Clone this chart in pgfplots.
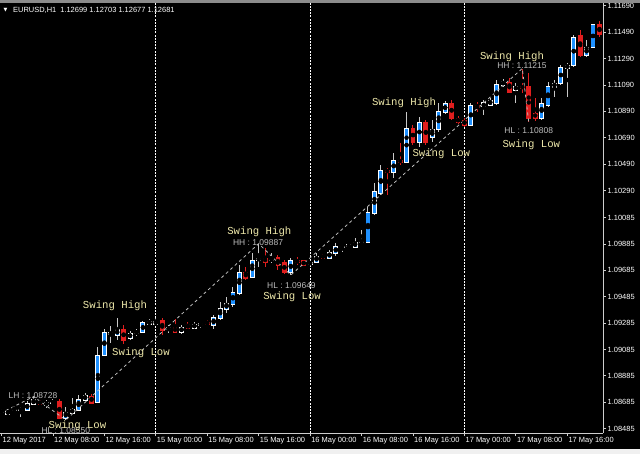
\documentclass[border=0pt]{standalone}
\usepackage{pgfplots}
\usepackage{pgfplotstable}
\pgfplotsset{compat=1.18}
\usepackage{fontspec}
\setmainfont{Liberation Sans}
\newfontfamily\monofont{Liberation Mono}
\newfontfamily\symfont{DejaVu Sans}
\definecolor{bullblue}{RGB}{30,144,255}
\definecolor{bearred}{RGB}{225,30,30}
\definecolor{wickgray}{RGB}{200,200,200}
\definecolor{swingyellow}{RGB}{238,232,170}
\definecolor{lblgray}{RGB}{190,190,190}
\definecolor{axgray}{RGB}{205,205,205}

\pgfplotstableread{
i O H L C
0 1.08611 1.08634 1.08596 1.08619
1 1.08596 1.08634 1.08588 1.08619
2 1.08626 1.08657 1.08619 1.08634
3 1.08626 1.08649 1.08573 1.08634
4 1.08626 1.08694 1.08619 1.08679
5 1.08672 1.08728 1.08664 1.08702
7 1.08664 1.08702 1.08641 1.08687
8 1.08679 1.08710 1.08664 1.08687
10 1.08566 1.08649 1.08550 1.08611
11 1.08604 1.08717 1.08596 1.08634
12 1.08626 1.08740 1.08619 1.08710
13 1.08702 1.08755 1.08694 1.08740
15 1.08687 1.09104 1.08679 1.09043
16 1.09043 1.09240 1.09036 1.09217
17 1.09202 1.09263 1.09134 1.09210
18 1.09195 1.09324 1.09157 1.09240
20 1.09172 1.09225 1.09157 1.09210
21 1.09210 1.09240 1.09187 1.09217
22 1.09217 1.09301 1.09210 1.09286
23 1.09278 1.09316 1.09271 1.09301
24 1.09278 1.09324 1.09271 1.09301
26 1.09233 1.09271 1.09210 1.09255
28 1.09217 1.09271 1.09202 1.09255
30 1.09248 1.09293 1.09240 1.09278
31 1.09271 1.09293 1.09248 1.09286
33 1.09271 1.09346 1.09240 1.09331
34 1.09324 1.09445 1.09308 1.09399
35 1.09392 1.09483 1.09362 1.09437
36 1.09430 1.09559 1.09407 1.09521
37 1.09513 1.09725 1.09498 1.09672
39 1.09634 1.09816 1.09627 1.09763
40 1.09763 1.09887 1.09710 1.09778
42 1.09763 1.09816 1.09741 1.09771
45 1.09672 1.09778 1.09649 1.09763
48 1.09733 1.09756 1.09725 1.09748
49 1.09748 1.09816 1.09741 1.09794
51 1.09778 1.09839 1.09771 1.09824
52 1.09816 1.09892 1.09794 1.09862
53 1.09862 1.09877 1.09824 1.09870
54 1.09862 1.09885 1.09854 1.09877
55 1.09862 1.09930 1.09854 1.09900
56 1.09900 1.09991 1.09892 1.09907
57 1.09900 1.10165 1.09892 1.10127
58 1.10120 1.10347 1.10104 1.10279
59 1.10271 1.10483 1.10256 1.10445
61 1.10430 1.10574 1.10385 1.10521
63 1.10506 1.10885 1.10498 1.10764
65 1.10658 1.10847 1.10620 1.10809
67 1.10696 1.10824 1.10658 1.10749
68 1.10749 1.10953 1.10733 1.10885
69 1.10885 1.10968 1.10870 1.10953
73 1.10787 1.10953 1.10779 1.10938
75 1.10923 1.10976 1.10862 1.10953
76 1.10938 1.10991 1.10931 1.10976
77 1.10953 1.11128 1.10938 1.11090
78 1.11090 1.11135 1.11075 1.11120
80 1.11052 1.11105 1.10953 1.11082
84 1.10840 1.10991 1.10824 1.10953
85 1.10938 1.11112 1.10923 1.11075
86 1.11075 1.11128 1.10999 1.11105
87 1.11105 1.11241 1.11090 1.11226
88 1.11219 1.11256 1.10999 1.11241
89 1.11241 1.11469 1.11226 1.11454
91 1.11317 1.11431 1.11302 1.11378
92 1.11378 1.11552 1.11370 1.11545
}\bull

\pgfplotstableread{
i O H L C
6 1.08694 1.08702 1.08664 1.08672
9 1.08694 1.08710 1.08558 1.08566
14 1.08732 1.08748 1.08672 1.08679
19 1.09233 1.09271 1.09127 1.09157
25 1.09308 1.09324 1.09195 1.09233
27 1.09255 1.09316 1.09210 1.09217
29 1.09271 1.09293 1.09240 1.09248
32 1.09286 1.09308 1.09271 1.09278
38 1.09672 1.09710 1.09612 1.09627
41 1.09778 1.09854 1.09710 1.09748
43 1.09786 1.09801 1.09687 1.09725
44 1.09741 1.09763 1.09655 1.09672
46 1.09756 1.09786 1.09725 1.09748
47 1.09756 1.09763 1.09718 1.09725
50 1.09801 1.09809 1.09771 1.09778
60 1.10445 1.10461 1.10256 1.10430
62 1.10521 1.10650 1.10483 1.10506
64 1.10764 1.10787 1.10635 1.10658
66 1.10809 1.10824 1.10635 1.10658
70 1.10953 1.10976 1.10824 1.10840
71 1.10840 1.10855 1.10794 1.10809
72 1.10824 1.10840 1.10771 1.10787
74 1.10938 1.10961 1.10885 1.10923
79 1.11112 1.11143 1.11029 1.11037
81 1.11082 1.11215 1.11029 1.11067
82 1.11075 1.11181 1.10808 1.10840
83 1.10877 1.10991 1.10817 1.10840
90 1.11469 1.11507 1.11302 1.11317
93 1.11545 1.11575 1.11454 1.11469
}\bear

\begin{document}
\begin{tikzpicture}
\fill[black] (0,0) rectangle (640bp,454bp);
\begin{axis}[
  at={(0,21bp)}, anchor=south west,
  scale only axis, width=603bp, height=430bp,
  xmin=-0.23, xmax=93.55, ymin=1.08452, ymax=1.11711,
  axis x line*=bottom, axis y line*=right,
  axis line style={draw=axgray, line width=0.8bp, -},
  tick style={draw=axgray, line width=0.8bp},
  tick align=outside, major tick length=3bp,
  xtick={0,8,16,24,32,40,48,56,64,72,80,88},
  xticklabels={12 May 2017,12 May 08:00,12 May 16:00,15 May 00:00,15 May 08:00,15 May 16:00,16 May 00:00,16 May 08:00,16 May 16:00,17 May 00:00,17 May 08:00,17 May 16:00},
  xticklabel style={anchor=north west, inner sep=0pt, xshift=1bp, yshift=-1.5bp, font=\fontsize{7.5}{9}\selectfont, text=white},
  ytick={1.08485,1.08685,1.08885,1.09085,1.09285,1.09485,1.09685,1.09885,1.10085,1.10290,1.10490,1.10690,1.10890,1.11090,1.11290,1.11490,1.11690},
  yticklabels={1.08485,1.08685,1.08885,1.09085,1.09285,1.09485,1.09685,1.09885,1.10085,1.10290,1.10490,1.10690,1.10890,1.11090,1.11290,1.11490,1.11690},
  yticklabel style={anchor=west, inner sep=0pt, xshift=1.5bp, font=\fontsize{7.5}{9}\selectfont, text=white},
  clip=true,
]
% day separators
\addplot [white, line width=0.8bp, dash pattern=on 2bp off 1.2bp] coordinates {(24,1.084) (24,1.118)};
\addplot [white, line width=0.8bp, dash pattern=on 2bp off 1.2bp] coordinates {(48,1.084) (48,1.118)};
\addplot [white, line width=0.8bp, dash pattern=on 2bp off 1.2bp] coordinates {(72,1.084) (72,1.118)};
% bull candles
\addplot [only marks, mark=none, error bars/.cd, y dir=both, y explicit, error mark=none,
  error bar style={draw=wickgray, line width=1bp}]
  table [x=i, y expr={(\thisrow{H}+\thisrow{L})/2}, y error expr={(\thisrow{H}-\thisrow{L})/2}] {\bull};
\addplot [only marks, mark=none, error bars/.cd, y dir=both, y explicit, error mark=none,
  error bar style={draw=white, line width=4.9bp}]
  table [x=i, y expr={(\thisrow{O}+\thisrow{C})/2}, y error expr={abs(\thisrow{C}-\thisrow{O})/2+0.00004}] {\bull};
\addplot [only marks, mark=none, error bars/.cd, y dir=both, y explicit, error mark=none,
  error bar style={draw=bullblue, line width=3.1bp}]
  table [x=i, y expr={(\thisrow{O}+\thisrow{C})/2}, y error expr={max(abs(\thisrow{C}-\thisrow{O})/2-0.000036,0)}] {\bull};
% bear candles
\addplot [only marks, mark=none, error bars/.cd, y dir=both, y explicit, error mark=none,
  error bar style={draw=bearred, line width=1bp}]
  table [x=i, y expr={(\thisrow{H}+\thisrow{L})/2}, y error expr={(\thisrow{H}-\thisrow{L})/2}] {\bear};
\addplot [only marks, mark=none, error bars/.cd, y dir=both, y explicit, error mark=none,
  error bar style={draw=bearred, line width=4.8bp}]
  table [x=i, y expr={(\thisrow{O}+\thisrow{C})/2}, y error expr={abs(\thisrow{C}-\thisrow{O})/2+0.00004}] {\bear};
% zigzag
\addplot [draw=lblgray, line width=0.8bp, dash pattern=on 3bp off 3bp] coordinates {
  (-1,1.08581) (5,1.08728) (10,1.08550) (40,1.09887) (45,1.09649) (81,1.11215) (82,1.10808)};
% labels
\node[text=lblgray, font=\fontsize{8.5}{9}\selectfont, inner sep=0pt] at (axis cs:10.0,1.08467) {HL : 1.08550};
\node[text=lblgray, font=\fontsize{8.5}{9}\selectfont, inner sep=0pt] at (axis cs:4.9,1.08732) {LH : 1.08728};
\node[text=lblgray, font=\fontsize{8.5}{9}\selectfont, inner sep=0pt] at (axis cs:39.9,1.09896) {HH : 1.09887};
\node[text=lblgray, font=\fontsize{8.5}{9}\selectfont, inner sep=0pt] at (axis cs:45.1,1.09570) {HL : 1.09649};
\node[text=lblgray, font=\fontsize{8.5}{9}\selectfont, inner sep=0pt] at (axis cs:80.95,1.11234) {HH : 1.11215};
\node[text=lblgray, font=\fontsize{8.5}{9}\selectfont, inner sep=0pt] at (axis cs:82.0,1.10741) {HL : 1.10808};
\node[text=swingyellow, font=\monofont\fontsize{10.7}{11}\selectfont, inner sep=0pt] at (axis cs:11.82,1.08505) {Swing Low};
\node[text=swingyellow, font=\monofont\fontsize{10.7}{11}\selectfont, inner sep=0pt] at (axis cs:17.65,1.09418) {Swing High};
\node[text=swingyellow, font=\monofont\fontsize{10.7}{11}\selectfont, inner sep=0pt] at (axis cs:21.7,1.09058) {Swing Low};
\node[text=swingyellow, font=\monofont\fontsize{10.7}{11}\selectfont, inner sep=0pt] at (axis cs:40.1,1.09975) {Swing High};
\node[text=swingyellow, font=\monofont\fontsize{10.7}{11}\selectfont, inner sep=0pt] at (axis cs:45.2,1.09483) {Swing Low};
\node[text=swingyellow, font=\monofont\fontsize{10.7}{11}\selectfont, inner sep=0pt] at (axis cs:62.6,1.10957) {Swing High};
\node[text=swingyellow, font=\monofont\fontsize{10.7}{11}\selectfont, inner sep=0pt] at (axis cs:68.4,1.10570) {Swing Low};
\node[text=swingyellow, font=\monofont\fontsize{10.7}{11}\selectfont, inner sep=0pt] at (axis cs:79.4,1.11306) {Swing High};
\node[text=swingyellow, font=\monofont\fontsize{10.7}{11}\selectfont, inner sep=0pt] at (axis cs:82.4,1.10635) {Swing Low};
% title
\node[text=white, font=\symfont\fontsize{5}{5}\selectfont, inner sep=0pt] at (axis cs:0.62,1.11658) {▼};
\node[anchor=west, text=white, font=\fontsize{7.5}{9}\selectfont, inner sep=0pt] at (axis cs:1.79,1.11658) {EURUSD,H1\hspace{4bp}1.12699 1.12703 1.12677 1.12681};
\end{axis}
\fill[black!45] (0,451bp) rectangle (640bp,454bp);
\fill[black!6] (0,0) rectangle (640bp,5bp);
\pgfresetboundingbox
\path[use as bounding box] (0,0) rectangle (640bp,454bp);
\end{tikzpicture}
\end{document}
